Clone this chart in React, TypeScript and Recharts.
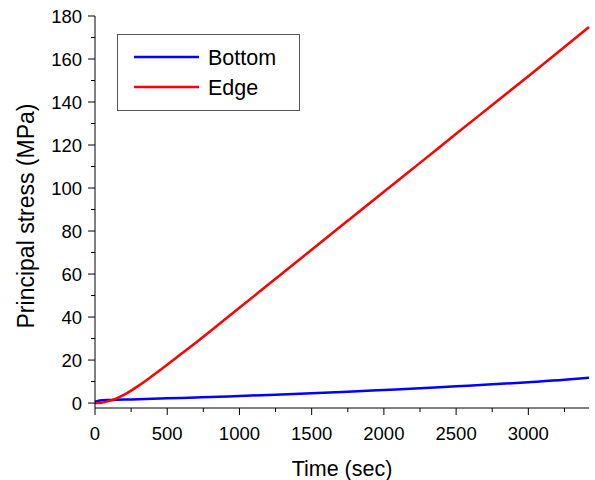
import React from "react";
import {
  LineChart,
  Line,
  XAxis,
  YAxis,
  Legend,
} from "recharts";

// time (sec) shared by both series
const times = [0, 25, 50, 100, 150, 200, 250, 300, 400, 500, 600, 700, 800, 1000, 1250, 1500, 1750, 2000, 2250, 2500, 2750, 3000, 3250, 3420];
const bottomStress = [0.6, 1.1, 1.3, 1.4, 1.5, 1.6, 1.7, 1.8, 2.0, 2.2, 2.4, 2.6, 2.8, 3.3, 3.9, 4.6, 5.3, 6.1, 6.9, 7.8, 8.7, 9.7, 10.8, 11.8];
const edgeStress = [0, 0.0, 0.2, 1.0, 2.2, 3.8, 5.8, 8.0, 12.8, 17.8, 23.0, 28.2, 33.5, 44.3, 57.8, 71.3, 84.8, 98.3, 111.7, 125.2, 138.6, 152.0, 165.6, 174.9];

const xTicks = [0, 250, 500, 750, 1000, 1250, 1500, 1750, 2000, 2250, 2500, 2750, 3000, 3250];
const yTicks = [0, 10, 20, 30, 40, 50, 60, 70, 80, 90, 100, 110, 120, 130, 140, 150, 160, 170, 180];

const data = times.map((t, i) => ({ t, bottom: bottomStress[i], edge: edgeStress[i] }));

const FONT = "'Liberation Sans', Arial, sans-serif";

const BottomTick = (props: any) => {
  const { x, y, payload } = props;
  const major = payload.value % 500 === 0;
  return (
    <g>
      <line x1={x} y1={y} x2={x} y2={y + (major ? 7 : 4)} stroke="#000" strokeWidth={1} />
      {major && (
        <text x={x} y={y + 32} textAnchor="middle" fontSize={18.5} fontFamily={FONT} fill="#000">
          {payload.value}
        </text>
      )}
    </g>
  );
};

const LeftTick = (props: any) => {
  const { x, y, payload } = props;
  const major = payload.value % 20 === 0;
  return (
    <g>
      <line x1={x} y1={y} x2={x - (major ? 7 : 4)} y2={y} stroke="#000" strokeWidth={1} />
      {major && (
        <text x={x - 13} y={y + 6.5} textAnchor="end" fontSize={18.5} fontFamily={FONT} fill="#000">
          {payload.value}
        </text>
      )}
    </g>
  );
};

const TopTick = (props: any) => {
  const { x, y, payload } = props;
  const major = payload.value % 500 === 0;
  return <line x1={x} y1={y} x2={x} y2={y + (major ? 4 : 2)} stroke="#000" strokeWidth={1} />;
};

const RightTick = (props: any) => {
  const { x, y, payload } = props;
  const major = payload.value % 20 === 0;
  return <line x1={x} y1={y} x2={x - (major ? 4 : 2)} y2={y} stroke="#000" strokeWidth={1} />;
};

const renderLegend = (props: any) => {
  const { payload } = props;
  return (
    <svg width={183} height={77}>
      <rect x={0.5} y={0.5} width={182} height={76} fill="#fff" stroke="#555" strokeWidth={1} />
      {(payload || []).map((entry: any, i: number) => (
        <g key={entry.value}>
          <line x1={17} x2={82} y1={23 + i * 30} y2={23 + i * 30} stroke={entry.color} strokeWidth={2.5} />
          <text x={91} y={23 + i * 30 + 7.5} fontSize={21.5} fontFamily={FONT} fill="#000">
            {entry.value}
          </text>
        </g>
      ))}
    </svg>
  );
};

export default function App() {
  return (
    <div style={{ position: "absolute", left: 0, top: 0, width: 595, height: 480, background: "#fff" }}>
      <LineChart width={595} height={480} data={data} margin={{ top: 16, right: 6, bottom: 0, left: 0 }}>
        <XAxis
          dataKey="t"
          type="number"
          domain={[0, 3420]}
          ticks={xTicks}
          interval={0}
          height={72}
          tickSize={0}
          tickMargin={0}
          tickLine={false}
          tick={<BottomTick />}
          axisLine={{ stroke: "#000", strokeWidth: 1 }}
          label={{ value: "Time (sec)", position: "insideBottom", offset: 4, fontSize: 21.5, fontFamily: FONT, fill: "#000" }}
        />
        <XAxis
          xAxisId="top"
          orientation="top"
          dataKey="t"
          type="number"
          domain={[0, 3420]}
          ticks={xTicks}
          interval={0}
          height={0}
          tickSize={0}
          tickMargin={0}
          tickLine={false}
          tick={<TopTick />}
          axisLine={{ stroke: "#000", strokeWidth: 1 }}
        />
        <YAxis
          type="number"
          domain={[-2.3, 180]}
          ticks={yTicks}
          interval={0}
          width={95}
          tickSize={0}
          tickMargin={0}
          tickLine={false}
          tick={<LeftTick />}
          axisLine={{ stroke: "#000", strokeWidth: 1 }}
          allowDataOverflow
          label={{ value: "Principal stress (MPa)", angle: -90, position: "insideLeft", offset: 26, dy: 4, fontSize: 23, fontFamily: FONT, fill: "#000", style: { textAnchor: "middle" } }}
        />
        <YAxis
          yAxisId="right"
          orientation="right"
          type="number"
          domain={[-2.3, 180]}
          ticks={yTicks}
          interval={0}
          width={0}
          tickSize={0}
          tickMargin={0}
          tickLine={false}
          tick={<RightTick />}
          axisLine={{ stroke: "#000", strokeWidth: 1 }}
          allowDataOverflow
        />
        <Legend
          layout="vertical"
          align="center"
          verticalAlign="middle"
          wrapperStyle={{ left: 117, top: 34, width: 183, height: 77 }}
          content={renderLegend}
        />
        <Line
          type="monotone"
          dataKey="bottom"
          name="Bottom"
          stroke="#0000ff"
          strokeWidth={2.5}
          dot={false}
          isAnimationActive={false}
        />
        <Line
          type="monotone"
          dataKey="edge"
          name="Edge"
          stroke="#ff0000"
          strokeWidth={2.5}
          dot={false}
          isAnimationActive={false}
        />
      </LineChart>
    </div>
  );
}
